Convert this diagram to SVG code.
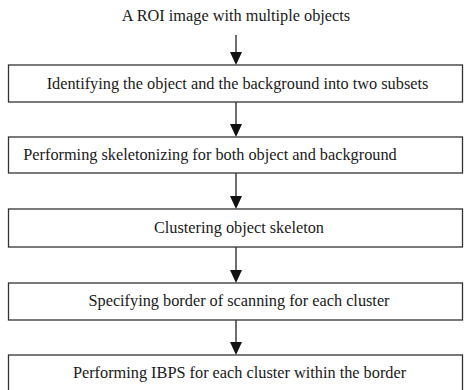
<svg xmlns="http://www.w3.org/2000/svg" width="464" height="390" viewBox="0 0 464 390">
<style>
.box{fill:#fff;stroke:#333;stroke-width:1.3}
.t{font-family:"Liberation Serif","Times New Roman",Times,serif;font-size:16.3px;fill:#1a1a1a;text-anchor:middle}
.c{stroke:#222;stroke-width:1.3;fill:none}
.h{fill:#111}
</style>
<rect width="464" height="390" fill="#fff"/>
<g id="connectors">
<line class="c" x1="236" y1="35" x2="236" y2="54"/><polygon class="h" points="230,52 242,52 236,65"/>
<line class="c" x1="236" y1="102" x2="236" y2="126"/><polygon class="h" points="230,124 242,124 236,137"/>
<line class="c" x1="236" y1="173" x2="236" y2="198"/><polygon class="h" points="230,196 242,196 236,209"/>
<line class="c" x1="236" y1="247" x2="236" y2="272"/><polygon class="h" points="230,270 242,270 236,283"/>
<line class="c" x1="236" y1="320" x2="236" y2="344"/><polygon class="h" points="230,342 242,342 236,355"/>
</g>
<g id="n0"><text class="t" x="236" y="21">A ROI image with multiple objects</text></g>
<g id="n1"><rect class="box" x="8.5" y="65" width="454" height="37"/><text class="t" x="237.5" y="89">Identifying the object and the background into two subsets</text></g>
<g id="n2"><rect class="box" x="8.5" y="137" width="454" height="36"/><text class="t" x="210" y="160">Performing skeletonizing for both object and background</text></g>
<g id="n3"><rect class="box" x="8.5" y="209" width="454" height="38"/><text class="t" x="239" y="233">Clustering object skeleton</text></g>
<g id="n4"><rect class="box" x="8.5" y="283" width="454" height="37"/><text class="t" x="239" y="306">Specifying border of scanning for each cluster</text></g>
<g id="n5"><rect class="box" x="8.5" y="355" width="454" height="40"/><text class="t" x="239.5" y="378">Performing IBPS for each cluster within the border</text></g>
</svg>
